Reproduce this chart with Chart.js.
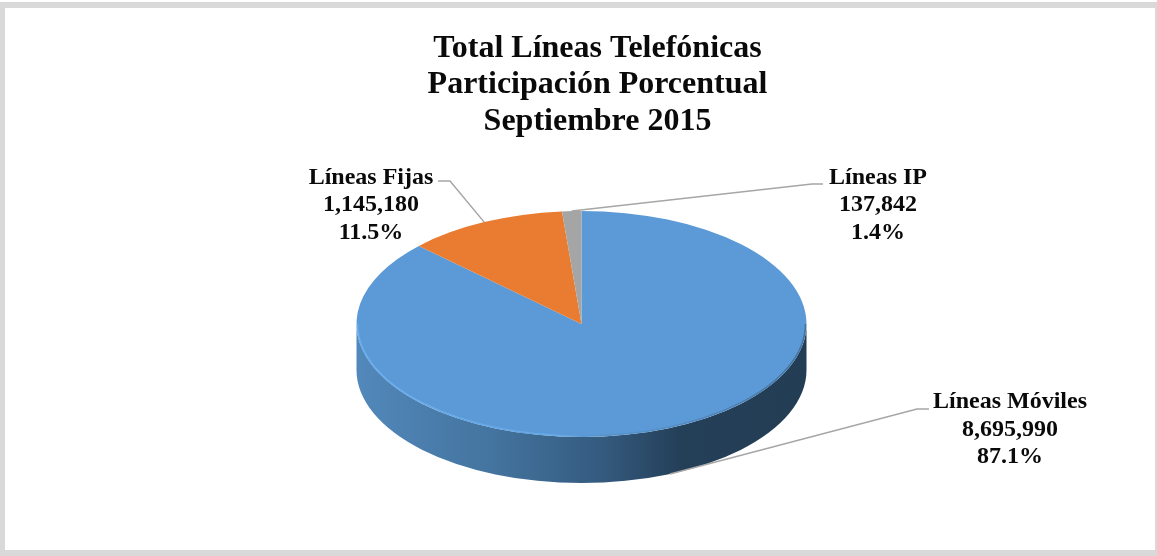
<!DOCTYPE html>
<html>
<head>
<meta charset="utf-8">
<title>Total Líneas Telefónicas</title>
<script src="https://cdn.jsdelivr.net/npm/chart.js@4"></script>
<style>
html, body { margin: 0; padding: 0; background: #fff; overflow: hidden; }
#frame { position: absolute; left: 0; top: 2px; width: 1150px; height: 542px; border: solid #d9d9d9; border-width: 6px 2px 6px 5px; }
#chart1 { position: absolute; left: 0; top: 0; filter: blur(0.5px); }
</style>
</head>
<body>
<div id="frame"></div>
<canvas id="chart1" width="1157" height="556"></canvas>
<script>
var titleLines = ['Total Líneas Telefónicas', 'Participación Porcentual', 'Septiembre 2015']
var categories = ['Líneas Móviles', 'Líneas Fijas', 'Líneas IP']
var lineCounts = [8695990, 1145180, 137842]
var sliceColors = ['#5b9ad6', '#e97c30', '#a5a5a5']

// look of the tilted pie, on screen
var pieRx = 225
var pieRy = 113
var pieDepth = 46
var pieShiftX = -16
var labelFont = 'bold 24px "Liberation Serif"'
var labelLineHeight = 27.5
var leaderColor = '#a6a6a6'

// where each label sits, and the elbow of its leader line
var labelBoxes = [
    { x: 1010, y: 402, elbow: [[917, 409], [929, 409]], front: true },
    { x: 371, y: 177.5, elbow: [[450, 181], [438, 181]] },
    { x: 878, y: 177.5, elbow: [[812, 184], [823, 184]] }
]

function pieGeom(chart) {
    var el = chart.getDatasetMeta(0).data[0]
    return { x: el.x + pieShiftX, y: el.y, r: el.outerRadius, sx: pieRx / el.outerRadius, sy: pieRy / el.outerRadius }
}

var tiltedPie = {
    id: 'tiltedPie',
    beforeDatasetsDraw: function (chart) {
        var ctx = chart.ctx
        var g = pieGeom(chart)

        // side wall, only the front half shows
        chart.getDatasetMeta(0).data.forEach(function (arc) {
            var a0 = Math.max(arc.startAngle, 0)
            var a1 = Math.min(arc.endAngle, Math.PI)
            if (a1 <= a0) return
            var wall = ctx.createLinearGradient(g.x - pieRx, 0, g.x + pieRx, 0)
            wall.addColorStop(0, '#5288bb')
            wall.addColorStop(0.3, '#44749f')
            wall.addColorStop(0.55, '#345a7e')
            wall.addColorStop(0.72, '#243f58')
            wall.addColorStop(1, '#233d54')
            ctx.beginPath()
            ctx.ellipse(g.x, g.y, pieRx, pieRy, 0, a0, a1)
            ctx.ellipse(g.x, g.y + pieDepth, pieRx, pieRy, 0, a1, a0, true)
            ctx.closePath()
            ctx.fillStyle = wall
            ctx.fill()
        })

        ctx.save()
        ctx.translate(g.x, g.y)
        ctx.scale(g.sx, g.sy)
        ctx.translate(-(g.x - pieShiftX), -g.y)
    },
    afterDatasetsDraw: function (chart) {
        var ctx = chart.ctx
        ctx.restore()
        var g = pieGeom(chart)
        var arcs = chart.getDatasetMeta(0).data

        // bevel on the rim of the top face
        var rim = ctx.createLinearGradient(g.x - pieRx, 0, g.x + pieRx, 0)
        rim.addColorStop(0, 'rgba(110,180,245,0.8)')
        rim.addColorStop(0.45, 'rgba(110,180,245,0.6)')
        rim.addColorStop(0.6, 'rgba(60,100,140,0.15)')
        rim.addColorStop(1, 'rgba(40,70,100,0.5)')
        ctx.beginPath()
        ctx.ellipse(g.x, g.y, pieRx - 1, pieRy - 1, 0, 0, Math.PI)
        ctx.strokeStyle = rim
        ctx.lineWidth = 1.5
        ctx.stroke()

        var total = lineCounts.reduce(function (a, b) { return a + b }, 0)

        categories.forEach(function (name, i) {
            var box = labelBoxes[i]
            var mid = (arcs[i].startAngle + arcs[i].endAngle) / 2
            var px = g.x + pieRx * Math.cos(mid)
            var py = g.y + pieRy * Math.sin(mid) + (box.front ? pieDepth : 0)

            ctx.beginPath()
            ctx.moveTo(px, py)
            box.elbow.forEach(function (p) { ctx.lineTo(p[0], p[1]) })
            ctx.strokeStyle = leaderColor
            ctx.lineWidth = 1.5
            ctx.stroke()

            var lines = [name, lineCounts[i].toLocaleString('en-US'), (lineCounts[i] / total * 100).toFixed(1) + '%']
            ctx.font = labelFont
            ctx.fillStyle = '#0a0a0a'
            ctx.textAlign = 'center'
            ctx.textBaseline = 'middle'
            lines.forEach(function (t, k) {
                ctx.fillText(t, box.x, box.y + k * labelLineHeight)
            })
        })
    }
}

var pieChart = new Chart(document.getElementById('chart1').getContext('2d'), {
    type: 'pie',
    data: {
        labels: categories,
        datasets: [{
            data: lineCounts,
            backgroundColor: sliceColors,
            borderWidth: 0,
            clip: false
        }]
    },
    options: {
        responsive: false,
        animation: false,
        events: [],
        layout: { padding: { left: 38, right: 0, top: 0, bottom: 73 } },
        plugins: {
            legend: { display: false },
            tooltip: { enabled: false },
            title: {
                display: true,
                text: titleLines,
                color: '#0a0a0a',
                font: { family: '"Liberation Serif"', size: 32, weight: 'bold', lineHeight: 1.15 },
                padding: { top: 30, bottom: 24.6 }
            }
        }
    },
    plugins: [tiltedPie]
})
</script>
</body>
</html>
